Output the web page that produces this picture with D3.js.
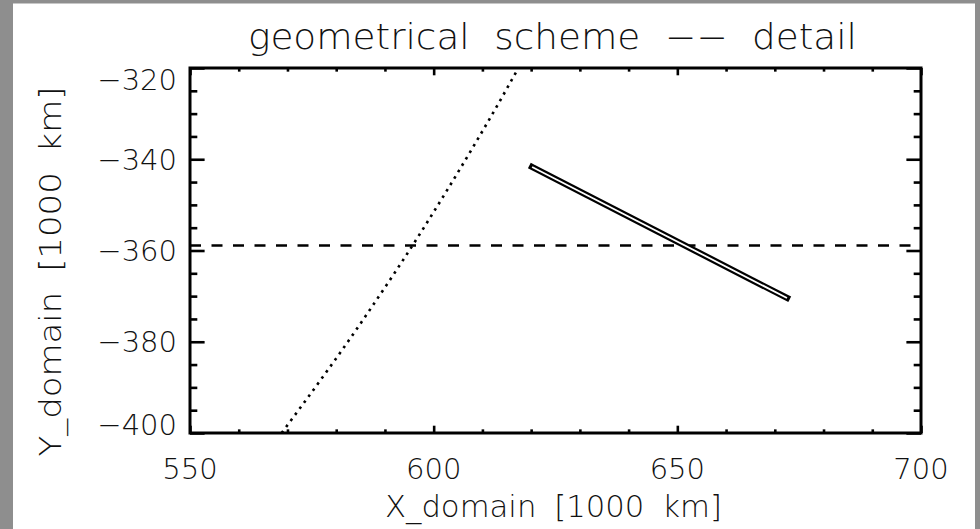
<!DOCTYPE html>
<html>
<head>
<meta charset="utf-8">
<script src="https://cdn.jsdelivr.net/npm/d3@7"></script>
<style>
  html, body { margin: 0; padding: 0; background: #8e8e8e; }
  svg { display: block; }
  text { font-family: "DejaVu Sans", sans-serif; font-weight: 300; fill: #111; }
</style>
</head>
<body>
<svg id="chart" width="980" height="529"></svg>
<script>
// Axis ranges and tick labels
const xDomain = [550, 700];
const yDomain = [-400, -320];
const xTickValues = [550, 600, 650, 700];
const yTickValues = [-320, -340, -360, -380, -400];

// Dotted curve (points along the arc), in 1000 km
const arcX = [568.8, 575.7, 582.4, 588.8, 595.0, 600.9, 606.6, 612.1, 617.4];
const arcY = [-400, -390, -380, -370, -360, -350, -340, -330, -320];

// Double-line segment endpoints
const segX = [620.2, 672.5];
const segY = [-341.7, -370.4];

// Horizontal dashed reference level
const refLevel = -358.9;

const svg = d3.select("#chart");
const W = 980, H = 529;

// white page inside a grey frame
svg.append("rect").attr("x", 13).attr("y", 3.5).attr("width", 962).attr("height", H - 3.5).attr("fill", "#fff");

const m = { left: 190, right: 921, top: 68, bottom: 433 };
const x = d3.scaleLinear().domain(xDomain).range([m.left, m.right]);
const y = d3.scaleLinear().domain(yDomain).range([m.bottom, m.top]);
const pw = m.right - m.left, ph = m.bottom - m.top;

svg.append("defs").append("clipPath").attr("id", "plotclip")
  .append("rect").attr("x", m.left).attr("y", m.top).attr("width", pw).attr("height", ph);

const plot = svg.append("g").attr("clip-path", "url(#plotclip)");

// dashed horizontal level
plot.append("line")
  .attr("x1", x(xDomain[0])).attr("x2", x(xDomain[1]))
  .attr("y1", y(refLevel)).attr("y2", y(refLevel))
  .attr("stroke", "#000").attr("stroke-width", 2.6)
  .attr("stroke-dasharray", "11,10.5");

// dotted arc
const line = d3.line().x(d => x(d[0])).y(d => y(d[1])).curve(d3.curveMonotoneY);
plot.append("path")
  .datum(arcX.map((v, i) => [v, arcY[i]]))
  .attr("d", line)
  .attr("fill", "none").attr("stroke", "#000").attr("stroke-width", 2.6)
  .attr("stroke-dasharray", "2.6,4.9");

// double-line segment: black outer stroke with white core
const segPts = segX.map((v, i) => [v, segY[i]]);
const segLine = d3.line().x(d => x(d[0])).y(d => y(d[1]));
plot.append("path").datum(segPts).attr("d", segLine)
  .attr("fill", "none").attr("stroke", "#000").attr("stroke-width", 6.2)
  .attr("stroke-linecap", "square");
plot.append("path").datum(segPts).attr("d", segLine)
  .attr("fill", "none").attr("stroke", "#fff").attr("stroke-width", 1.8)
  .attr("stroke-linecap", "butt");

// axes: ticks on all four sides (major + minor)
const xMajorLen = 0.02 * ph, xMinorLen = xMajorLen / 2;
const yMajorLen = 0.02 * pw, yMinorLen = yMajorLen / 2;

const xMinor = d3.range(xDomain[0], xDomain[1] + 0.001, 10).filter(v => !xTickValues.includes(v));
const yMinor = d3.range(yDomain[0], yDomain[1] + 0.001, 5).filter(v => !yTickValues.includes(v));

function styleAxis(g) {
  g.select(".domain").remove();
  g.selectAll(".tick line").attr("stroke", "#000").attr("stroke-width", 2.6);
}

// bottom axis
svg.append("g").attr("transform", `translate(0,${m.bottom})`)
  .call(d3.axisTop(x).tickValues(xTickValues).tickSize(xMajorLen).tickFormat(""))
  .call(styleAxis);
svg.append("g").attr("transform", `translate(0,${m.bottom})`)
  .call(d3.axisTop(x).tickValues(xMinor).tickSize(xMinorLen).tickFormat(""))
  .call(styleAxis);
// top axis
svg.append("g").attr("transform", `translate(0,${m.top})`)
  .call(d3.axisBottom(x).tickValues(xTickValues).tickSize(xMajorLen).tickFormat(""))
  .call(styleAxis);
svg.append("g").attr("transform", `translate(0,${m.top})`)
  .call(d3.axisBottom(x).tickValues(xMinor).tickSize(xMinorLen).tickFormat(""))
  .call(styleAxis);
// left axis
svg.append("g").attr("transform", `translate(${m.left},0)`)
  .call(d3.axisRight(y).tickValues(yTickValues).tickSize(yMajorLen).tickFormat(""))
  .call(styleAxis);
svg.append("g").attr("transform", `translate(${m.left},0)`)
  .call(d3.axisRight(y).tickValues(yMinor).tickSize(yMinorLen).tickFormat(""))
  .call(styleAxis);
// right axis
svg.append("g").attr("transform", `translate(${m.right},0)`)
  .call(d3.axisLeft(y).tickValues(yTickValues).tickSize(yMajorLen).tickFormat(""))
  .call(styleAxis);
svg.append("g").attr("transform", `translate(${m.right},0)`)
  .call(d3.axisLeft(y).tickValues(yMinor).tickSize(yMinorLen).tickFormat(""))
  .call(styleAxis);

// plot frame
svg.append("rect").attr("x", m.left).attr("y", m.top).attr("width", pw).attr("height", ph)
  .attr("fill", "none").attr("stroke", "#000").attr("stroke-width", 3);

// tick labels (minus sign as in typeset output)
const fmt = v => (v < 0 ? "\u2212" : "") + Math.abs(v);
svg.selectAll(".xlab").data(xTickValues).join("text")
  .attr("x", d => x(d)).attr("y", 479)
  .attr("text-anchor", "middle").attr("font-size", 29)
  .text(fmt);
svg.selectAll(".ylab").data(yTickValues).join("text")
  .attr("x", 177)
  .attr("y", d => Math.min(Math.max(y(d), m.top + 11.5), m.bottom - 9) + 10.5)
  .attr("text-anchor", "end").attr("font-size", 29)
  .text(fmt);

// title and axis titles
svg.append("text").attr("x", 552.5).attr("y", 48.5).attr("text-anchor", "middle")
  .attr("font-size", 35).attr("word-spacing", 12)
  .attr("textLength", 609).attr("lengthAdjust", "spacingAndGlyphs")
  .text("geometrical scheme \u2212\u2212 detail");
svg.append("text").attr("x", 553.5).attr("y", 516.5).attr("text-anchor", "middle")
  .attr("font-size", 30).attr("word-spacing", 8)
  .attr("textLength", 337).attr("lengthAdjust", "spacingAndGlyphs")
  .text("X_domain [1000 km]");
svg.append("text").attr("transform", "translate(61,271.5) rotate(-90)").attr("text-anchor", "middle")
  .attr("font-size", 30).attr("word-spacing", 8)
  .attr("textLength", 370).attr("lengthAdjust", "spacingAndGlyphs")
  .text("Y_domain [1000 km]");
</script>
</body>
</html>
